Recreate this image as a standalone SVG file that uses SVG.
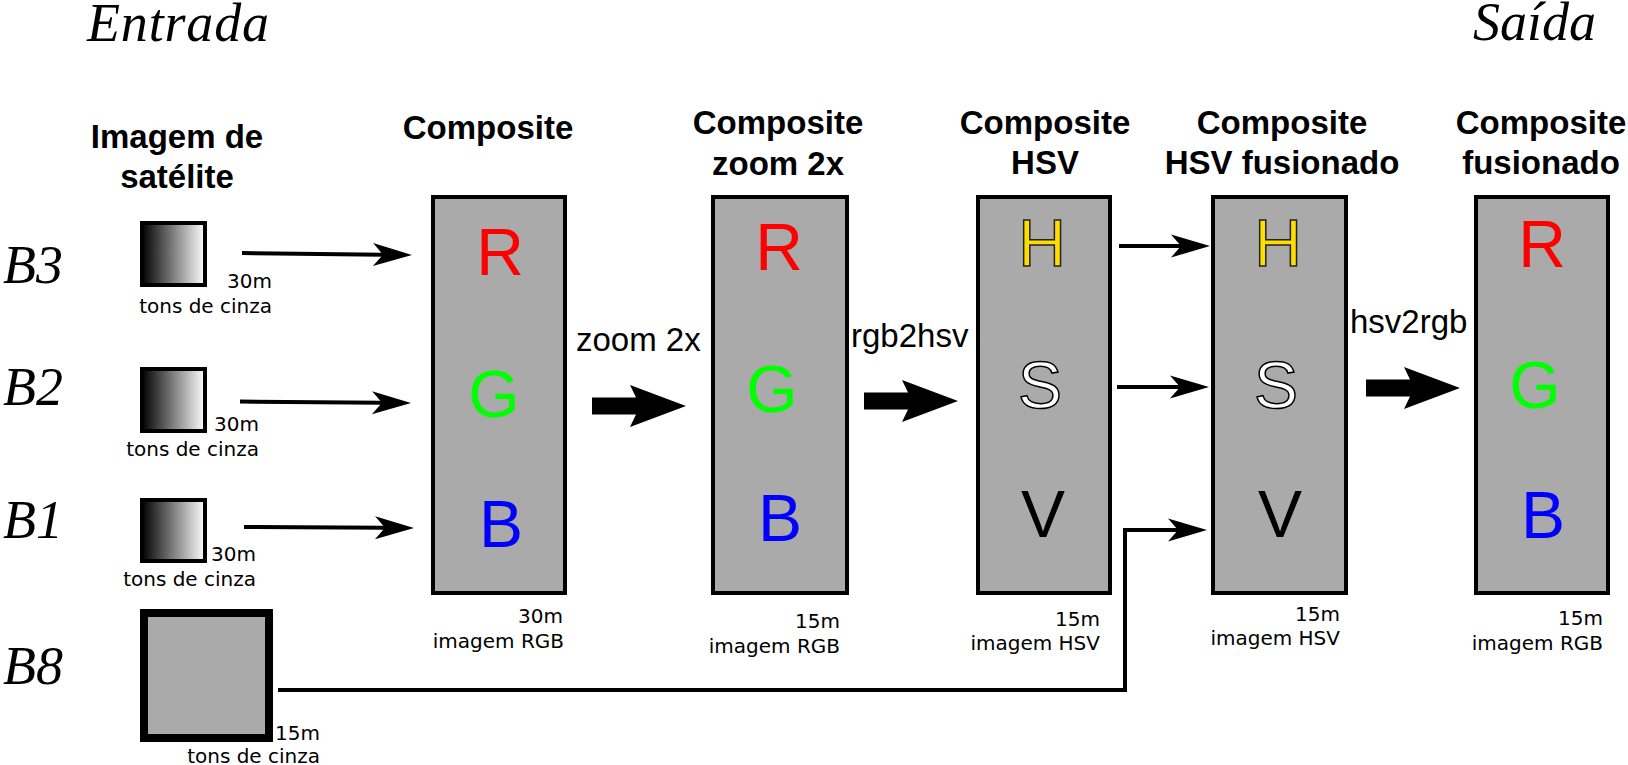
<svg xmlns="http://www.w3.org/2000/svg" width="1628" height="765" viewBox="0 0 1628 765">
<style>
.title{font-family:"Liberation Sans",Arial,sans-serif;font-weight:bold;font-size:33px;fill:#000;text-anchor:middle}
.small{font-family:"DejaVu Sans",Verdana,sans-serif;font-size:20px;fill:#000;text-anchor:end}
.ital{font-family:"Liberation Serif","Times New Roman",serif;font-style:italic;font-size:54px;fill:#000}
.op{font-family:"Liberation Sans",Arial,sans-serif;font-size:33px;fill:#000}
.ch{font-family:"Liberation Sans",Arial,sans-serif;font-size:66px;text-anchor:middle}
.box{fill:#aaaaaa;stroke:#000;stroke-width:4}
.sq{stroke:#000;stroke-width:4;fill:url(#grey)}
.conn{fill:none;stroke:#000;stroke-width:4}
</style>
<defs>
<linearGradient id="grey" x1="0" y1="0" x2="1" y2="0">
<stop offset="0" stop-color="#000"/>
<stop offset="1" stop-color="#fff"/>
</linearGradient>
<marker id="ah" markerUnits="userSpaceOnUse" markerWidth="60" markerHeight="40" refX="0" refY="0" orient="auto" overflow="visible">
<path d="M29,0 L-10,-11.5 L0,0 L-10,11.5 Z" fill="#000"/>
</marker>
<path id="big" d="M-94,-8.5 L-50,-8.5 L-56,-21 L0,0 L-56,21 L-50,8.5 L-94,8.5 Z" fill="#000"/>
</defs>

<text class="ital" x="87" y="41" font-size="53" textLength="182">Entrada</text>
<text class="ital" x="1473" y="40" font-size="53">Saída</text>
<text class="ital" x="3" y="283">B3</text>
<text class="ital" x="3" y="405">B2</text>
<text class="ital" x="3" y="538">B1</text>
<text class="ital" x="3" y="684">B8</text>

<g id="connectors">
<path class="conn" d="M242,253 L383,254.7" marker-end="url(#ah)"/>
<path class="conn" d="M240,401.5 L382,402.8" marker-end="url(#ah)"/>
<path class="conn" d="M244,527 L385,527.8" marker-end="url(#ah)"/>
<path class="conn" d="M1119,246 L1181,246" marker-end="url(#ah)"/>
<path class="conn" d="M1117,387 L1180,387" marker-end="url(#ah)"/>
<path class="conn" d="M278,690 L1125,690 L1125,530 L1178,530" marker-end="url(#ah)"/>
<use href="#big" x="686" y="406"/>
<use href="#big" x="958" y="401"/>
<use href="#big" x="1460" y="388"/>
<text class="op" x="576" y="351">zoom 2x</text>
<text class="op" x="851" y="347">rgb2hsv</text>
<text class="op" x="1350" y="333">hsv2rgb</text>
</g>

<g id="sat">
<text class="title" x="177" y="148">Imagem de</text>
<text class="title" x="177" y="188">satélite</text>
</g>

<g id="b3">
<rect class="sq" x="142" y="223" width="63" height="62"/>
<text class="small" x="272" y="288">30m</text>
<text class="small" x="272" y="313">tons de cinza</text>
</g>
<g id="b2">
<rect class="sq" x="142" y="369" width="63" height="62"/>
<text class="small" x="259" y="431">30m</text>
<text class="small" x="259" y="456">tons de cinza</text>
</g>
<g id="b1">
<rect class="sq" x="142" y="500" width="63" height="61"/>
<text class="small" x="256" y="561">30m</text>
<text class="small" x="256" y="586">tons de cinza</text>
</g>
<g id="b8">
<rect x="144" y="613" width="125" height="125" fill="#aaaaaa" stroke="#000" stroke-width="8"/>
<text class="small" x="320" y="740">15m</text>
<text class="small" x="320" y="763">tons de cinza</text>
</g>

<g id="composite">
<text class="title" x="488" y="139">Composite</text>
<rect class="box" x="433" y="197" width="132" height="396"/>
<text class="ch" x="500" y="275" fill="#ff0000">R</text>
<text class="ch" x="494" y="417" fill="#00ff00">G</text>
<text class="ch" x="501" y="547" fill="#0000ff">B</text>
<text class="small" x="563" y="623">30m</text>
<text class="small" x="564" y="648">imagem RGB</text>
</g>

<g id="composite-zoom">
<text class="title" x="778" y="134">Composite</text>
<text class="title" x="778" y="175">zoom 2x</text>
<rect class="box" x="713" y="197" width="134" height="396"/>
<text class="ch" x="779" y="270" fill="#ff0000">R</text>
<text class="ch" x="772" y="412" fill="#00ff00">G</text>
<text class="ch" x="780" y="541" fill="#0000ff">B</text>
<text class="small" x="840" y="628">15m</text>
<text class="small" x="840" y="653">imagem RGB</text>
</g>

<g id="composite-hsv">
<text class="title" x="1045" y="134">Composite</text>
<text class="title" x="1045" y="174">HSV</text>
<rect class="box" x="978" y="197" width="132" height="396"/>
<text class="ch" x="1042" y="266" fill="#ffdd00" stroke="#222" stroke-width="1.5">H</text>
<text class="ch" x="1040" y="408" fill="#ffffff" stroke="#000" stroke-width="1.5">S</text>
<text class="ch" x="1043" y="537" fill="#000">V</text>
<text class="small" x="1100" y="626">15m</text>
<text class="small" x="1100" y="650">imagem HSV</text>
</g>

<g id="composite-hsv-fus">
<text class="title" x="1282" y="134">Composite</text>
<text class="title" x="1282" y="174">HSV fusionado</text>
<rect class="box" x="1213" y="197" width="133" height="396"/>
<text class="ch" x="1278" y="266" fill="#ffdd00" stroke="#222" stroke-width="1.5">H</text>
<text class="ch" x="1276" y="408" fill="#ffffff" stroke="#000" stroke-width="1.5">S</text>
<text class="ch" x="1280" y="537" fill="#000">V</text>
<text class="small" x="1340" y="621">15m</text>
<text class="small" x="1340" y="645">imagem HSV</text>
</g>

<g id="composite-fus">
<text class="title" x="1541" y="134">Composite</text>
<text class="title" x="1541" y="174">fusionado</text>
<rect class="box" x="1476" y="197" width="132" height="396"/>
<text class="ch" x="1542" y="267" fill="#ff0000">R</text>
<text class="ch" x="1535" y="408" fill="#00ff00">G</text>
<text class="ch" x="1543" y="538" fill="#0000ff">B</text>
<text class="small" x="1603" y="625">15m</text>
<text class="small" x="1603" y="650">imagem RGB</text>
</g>
</svg>
